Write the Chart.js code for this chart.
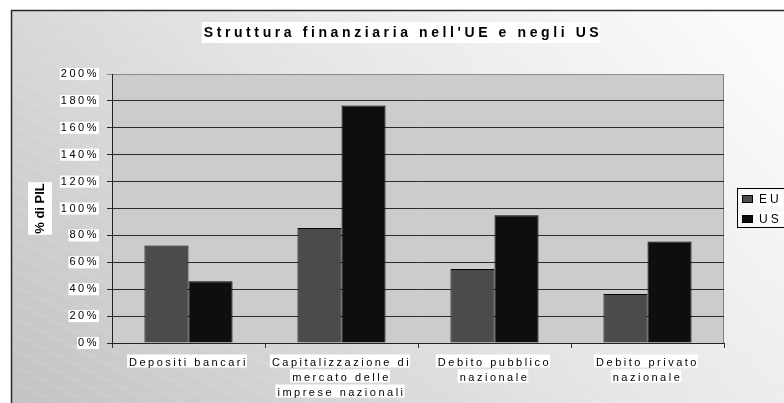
<!DOCTYPE html>
<html>
<head>
<meta charset="utf-8">
<script src="https://cdn.jsdelivr.net/npm/chart.js@4.4.1/dist/chart.umd.min.js"></script>
<style>
  html, body { margin: 0; padding: 0; background: #fff; }
  canvas { display: block; }
</style>
</head>
<body>
<canvas id="chart" width="784" height="403"></canvas>
<script>
// --- dati ---
const categories = [
  'Depositi bancari',
  ['Capitalizzazione di', 'mercato delle', 'imprese nazionali'],
  ['Debito pubblico', 'nazionale'],
  ['Debito privato', 'nazionale']
];
const seriesNames = ['EU', 'US'];
const euValues = [72.5, 85.5, 55, 36.5];
const usValues = [46, 176.5, 95, 75.5];
const yTickLabels = ['0%', '20%', '40%', '60%', '80%', '100%', '120%', '140%', '160%', '180%', '200%'];
const chartTitle = "Struttura finanziaria nell'UE e negli US";
const yTitle = '% di PIL';

const FONT = "'Liberation Sans', Arial, sans-serif";
const seriesColors = ['#4b4b4b', '#0e0e0e'];
const LABEL_SPACING = '2.5px';

// sfondo, titolo, legenda in stile Excel
const framePlugin = {
  id: 'frame',
  beforeLayout(chart) {
    chart.ctx.letterSpacing = LABEL_SPACING;
  },
  beforeDraw(chart) {
    const ctx = chart.ctx;
    const a = chart.chartArea;
    ctx.save();
    ctx.fillStyle = '#fff';
    ctx.fillRect(0, 0, chart.width, chart.height);

    // riquadro esterno con sfumatura
    const g = ctx.createLinearGradient(11, 403, 600, -150);
    g.addColorStop(0, '#c3c3c3');
    g.addColorStop(0.5, '#e3e3e3');
    g.addColorStop(1, '#fcfcfc');
    ctx.fillStyle = g;
    ctx.fillRect(11, 10, 800, 420);

    // tratteggio diagonale leggero
    ctx.save();
    ctx.beginPath();
    ctx.rect(11, 10, 800, 420);
    ctx.clip();
    ctx.beginPath();
    for (let k = -500; k < 420; k += 16) {
      ctx.moveTo(11, k);
      ctx.lineTo(811, k + 400);
    }
    ctx.strokeStyle = 'rgba(255,255,255,0.2)';
    ctx.lineWidth = 1;
    ctx.stroke();
    ctx.restore();

    ctx.strokeStyle = '#2a2a2a';
    ctx.lineWidth = 1.5;
    ctx.strokeRect(11.5, 10.5, 800, 420);

    // area del grafico
    ctx.fillStyle = '#cccccc';
    ctx.fillRect(a.left, a.top, a.right - a.left, a.bottom - a.top);
    ctx.strokeStyle = '#808080';
    ctx.lineWidth = 1;
    ctx.strokeRect(a.left + 0.5, a.top + 0.5, a.right - a.left - 1, a.bottom - a.top);

    // riquadri bianchi dietro le etichette delle categorie (una per riga)
    const xs = chart.scales.x;
    ctx.font = '11px ' + FONT;
    ctx.letterSpacing = LABEL_SPACING;
    ctx.fillStyle = '#fff';
    chart.data.labels.forEach((lab, i) => {
      const lines = Array.isArray(lab) ? lab : [lab];
      const cx = xs.getPixelForTick(i);
      lines.forEach((line, k) => {
        const w = ctx.measureText(line).width;
        const cy = a.bottom + 18 + k * 15;
        ctx.fillRect(cx - w / 2 - 2, cy - 6.5, w + 1, 13);
      });
    });
    ctx.restore();
    ctx.letterSpacing = LABEL_SPACING;
  },
  afterDraw(chart) {
    const ctx = chart.ctx;
    const a = chart.chartArea;
    ctx.save();

    // titolo
    ctx.font = 'bold 14px ' + FONT;
    ctx.letterSpacing = '3.6px';
    let w = ctx.measureText(chartTitle).width;
    const tx = 403 - w / 2;
    ctx.fillStyle = '#fff';
    ctx.fillRect(tx - 2, 22, w, 21);
    ctx.fillStyle = '#000';
    ctx.textBaseline = 'middle';
    ctx.textAlign = 'left';
    ctx.fillText(chartTitle, tx, 33);

    // titolo asse y
    ctx.font = 'bold 13px ' + FONT;
    ctx.letterSpacing = '0px';
    w = ctx.measureText(yTitle).width;
    const cy = (a.top + a.bottom) / 2;
    ctx.translate(40, cy);
    ctx.rotate(-Math.PI / 2);
    ctx.fillStyle = '#fff';
    ctx.fillRect(-w / 2 - 1, -12, w + 2, 24);
    ctx.fillStyle = '#000';
    ctx.fillText(yTitle, -w / 2, 0);
    ctx.setTransform(1, 0, 0, 1, 0, 0);

    // legenda
    ctx.fillStyle = 'rgba(248,248,248,1)';
    ctx.fillRect(737, 188, 60, 39);
    ctx.strokeStyle = '#000';
    ctx.lineWidth = 1;
    ctx.strokeRect(737.5, 188.5, 60, 39);
    ctx.font = '12px ' + FONT;
    ctx.letterSpacing = '3px';
    chart.data.datasets.forEach((ds, i) => {
      const y = 195 + i * 20;
      ctx.fillStyle = ds.backgroundColor;
      ctx.fillRect(742, y, 11, 8);
      ctx.strokeStyle = '#000';
      ctx.strokeRect(742.5, y + 0.5, 10, 7);
      const lw = ctx.measureText(ds.label).width;
      ctx.fillStyle = '#fff';
      ctx.fillRect(758, y - 3, lw + 2, 14);
      ctx.fillStyle = '#000';
      ctx.fillText(ds.label, 759, y + 4.5);
    });
    ctx.restore();
  }
};

new Chart(document.getElementById('chart'), {
  type: 'bar',
  data: {
    labels: categories,
    datasets: [
      {
        label: seriesNames[0],
        data: euValues,
        backgroundColor: seriesColors[0],
        borderColor: '#000',
        borderWidth: 1,
        categoryPercentage: 0.576,
        barPercentage: 1
      },
      {
        label: seriesNames[1],
        data: usValues,
        backgroundColor: seriesColors[1],
        borderColor: '#000',
        borderWidth: 1,
        categoryPercentage: 0.576,
        barPercentage: 1
      }
    ]
  },
  options: {
    responsive: false,
    animation: false,
    devicePixelRatio: 1,
    layout: { padding: { left: 0, top: 74, right: 60, bottom: 0 } },
    plugins: {
      legend: { display: false },
      title: { display: false },
      tooltip: { enabled: false }
    },
    scales: {
      x: {
        grid: { display: true, drawOnChartArea: false, drawTicks: true, tickLength: 5, color: '#333', offset: true },
        border: { display: true, color: '#222', width: 1 },
        ticks: {
          color: '#000',
          font: { family: FONT, size: 11, lineHeight: '15px' },
          padding: 7,
          maxRotation: 0,
          minRotation: 0,
          autoSkip: false
        },
        afterFit(scale) { scale.height = 60; }
      },
      y: {
        min: 0,
        max: 200,
        grid: {
          color: c => (c.tick && c.tick.value === 200) ? '#8a8a8a' : '#2b2b2b',
          tickLength: 5
        },
        border: { display: true, color: '#222', width: 1 },
        ticks: {
          stepSize: 20,
          color: '#000',
          font: { family: FONT, size: 11, lineHeight: 1.1 },
          padding: 8,
          callback: (v, i) => yTickLabels[i],
          showLabelBackdrop: true,
          backdropColor: '#fff',
          backdropPadding: { top: 0, bottom: 0, left: 1, right: 0 }
        },
        afterFit(scale) { scale.width = 112; }
      }
    }
  },
  plugins: [framePlugin]
});
</script>
</body>
</html>
